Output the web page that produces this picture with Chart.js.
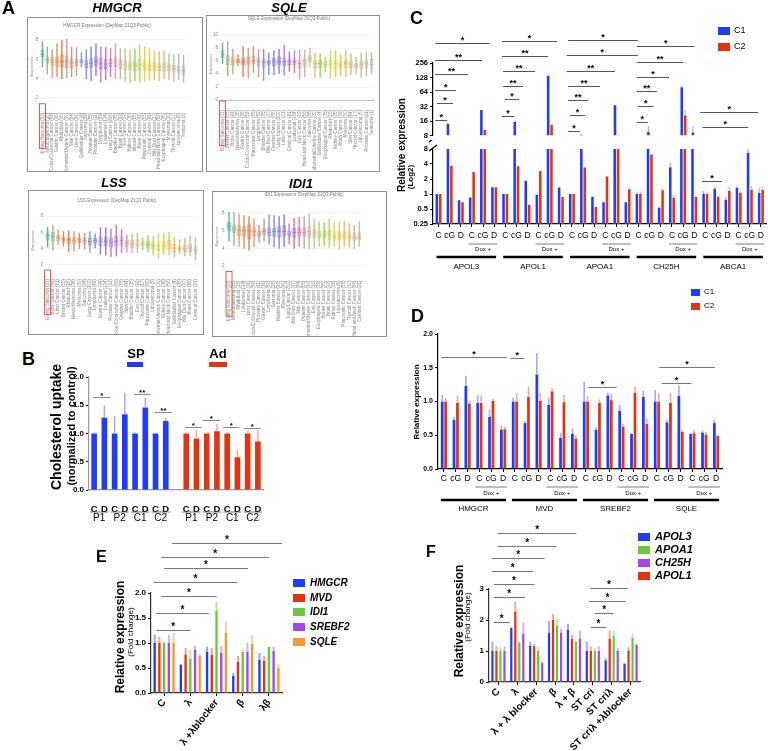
<!DOCTYPE html>
<html>
<head>
<meta charset="utf-8">
<script src="https://cdn.jsdelivr.net/npm/chart.js@4.4.1/dist/chart.umd.min.js"></script>
<style>
  body { margin: 0; width: 768px; height: 751px; position: relative; overflow: hidden; background: #fff;
         font-family: "Liberation Sans", Arial, sans-serif; color: #000; }
  canvas, .t, .frame, .sw { position: absolute; }
  .t { white-space: nowrap; line-height: 1; }
  .letter { font-weight: bold; font-size: 18px; }
  .gene { font-weight: bold; font-style: italic; font-size: 13px; transform: translateX(-50%); }
  .tiny { font-size: 9px; color: #777; transform: translate(-50%, -50%) scale(0.5); }
  .rot { font-weight: bold; transform: translate(-50%, -50%) rotate(-90deg); }
  .frame { border: 1px solid #8c8c8c; box-sizing: border-box; }
</style>
</head>
<body>
<script>
// ---------- Panel A (DepMap screenshots) ----------
const hmgcrLabels = ["Ewing Sarcoma (33)","Neuroblastoma (35)","Colon/Colorectal Cancer (59)","Gastric Cancer (36)","Rhabdoid (15)","Endometrial/Uterine Cancer (30)","Skin Cancer (84)","Liver Cancer (21)","Gallbladder Cancer (4)","Sarcoma (28)","Ovarian Cancer (55)","Prostate Cancer (11)","Lymphoma (82)","Leukemia (134)","Lung Cancer (200)","Bladder Cancer (35)","Brain Cancer (92)","Eye Cancer (10)","Kidney Cancer (35)","Breast Cancer (55)","Bone Cancer (41)","Pancreatic Cancer (55)","Cervical Cancer (21)","Bile Duct Cancer (37)","Head and Neck Cancer (56)","Esophageal Cancer (35)","Myeloma (30)","Thyroid Cancer (17)","Liposarcoma (5)","Teratoma (1)"];
const hmgcrMed = [6.5,6.0,5.8,5.7,5.8,5.8,5.6,5.7,5.8,5.5,5.6,5.8,5.6,5.5,5.6,5.7,5.5,5.4,5.4,5.4,5.5,5.4,5.3,5.3,5.2,5.2,5.2,5.0,4.9,4.8];
const hmgcrQ1  = [6.2,5.6,5.3,5.2,5.2,5.1,5.1,5.3,5.6,5.1,5.1,5.3,5.0,5.0,5.2,5.2,5.0,4.9,4.9,4.8,4.9,4.8,4.8,4.8,4.8,4.8,4.8,4.6,4.6,4.3];
const hmgcrQ3  = [7.0,6.3,6.2,6.3,6.5,6.4,6.0,6.0,6.0,5.9,6.1,6.3,6.1,6.0,6.0,6.3,6.0,5.9,5.8,5.9,6.0,5.9,5.8,5.7,5.6,5.7,5.6,5.4,5.3,5.3];
const hmgcrLo  = [5.2,4.5,4.1,4.2,4.0,4.1,4.2,4.3,5.2,4.0,3.8,4.3,3.6,3.9,4.2,4.0,4.0,3.8,3.6,3.8,3.6,3.7,3.8,3.9,3.8,4.0,3.9,3.7,3.9,3.6];
const hmgcrHi  = [7.8,7.3,7.0,7.6,8.0,8.1,7.3,7.2,6.7,7.0,7.3,7.6,7.3,7.2,7.1,7.6,7.1,7.1,7.0,7.1,7.5,7.3,7.1,6.9,6.8,6.9,6.6,6.5,6.6,6.4];

const sqleLabels = ["Ewing Sarcoma (33)","Breast Cancer (55)","Bone Cancer (41)","Neuroblastoma (35)","Gastric Cancer (36)","Colon/Colorectal Cancer (59)","Pancreatic Cancer (55)","Lymphoma (82)","Bladder Cancer (35)","Bile Duct Cancer (37)","Ovarian Cancer (55)","Lung Cancer (200)","Liver Cancer (21)","Cervical Cancer (21)","Leukemia (134)","Eye Cancer (10)","Head and Neck Cancer (56)","Sarcoma (28)","Endometrial/Uterine Cancer (30)","Gallbladder Cancer (4)","Esophageal Cancer (35)","Rhabdoid (15)","Kidney Cancer (35)","Brain Cancer (92)","Myeloma (30)","Skin Cancer (84)","Thyroid Cancer (17)","Liposarcoma (5)","Prostate Cancer (11)","Teratoma (1)"];
const sqleMed = [7.0,6.2,6.0,6.0,5.9,6.0,6.1,5.9,5.8,5.7,5.9,5.9,5.9,6.0,5.9,5.6,5.8,6.4,5.6,5.6,5.5,5.5,5.6,5.4,5.6,5.5,5.3,5.5,5.6,5.5];
const sqleQ1  = [6.5,5.4,5.4,5.7,5.3,5.3,5.5,5.2,5.0,5.3,5.2,5.3,5.2,5.4,5.3,4.8,5.0,5.9,4.9,4.9,5.1,4.8,4.9,4.9,4.9,4.9,4.9,4.8,4.9,4.8];
const sqleQ3  = [7.6,6.9,6.7,6.3,6.5,6.6,6.8,6.5,6.4,6.2,6.5,6.6,6.5,6.4,6.4,6.2,6.3,7.0,6.1,6.1,6.0,6.1,6.2,5.9,6.2,6.0,5.7,6.0,6.1,6.3];
const sqleLo  = [5.6,3.8,4.0,5.2,3.6,3.4,4.3,3.5,3.0,3.9,3.9,4.1,3.8,4.4,4.2,3.2,3.6,5.1,3.4,3.5,4.3,3.3,3.5,3.8,3.6,3.9,4.1,3.5,3.7,4.1];
const sqleHi  = [8.8,9.0,7.8,7.0,8.2,8.0,8.3,7.7,7.8,7.2,7.6,7.8,8.4,7.4,7.6,7.7,7.7,8.0,7.2,7.1,6.6,7.7,7.6,7.0,7.6,7.1,6.6,7.2,7.4,7.3];

const lssLabels = ["Ewing Sarcoma (33)","Bone Cancer (41)","Liver Cancer (21)","Breast Cancer (55)","Rhabdoid (15)","Neuroblastoma (35)","Myeloma (30)","Sarcoma (28)","Lung Cancer (200)","Lymphoma (82)","Gastric Cancer (36)","Leukemia (134)","Prostate Cancer (11)","Colon/Colorectal Cancer (59)","Ovarian Cancer (55)","Skin Cancer (84)","Bladder Cancer (35)","Eye Cancer (10)","Thyroid Cancer (17)","Pancreatic Cancer (55)","Liposarcoma (5)","Endometrial/Uterine Cancer (30)","Kidney Cancer (35)","Head and Neck Cancer (56)","Gallbladder Cancer (4)","Esophageal Cancer (35)","Bile Duct Cancer (37)","Brain Cancer (92)","Cervical Cancer (21)"];
const lssMed = [5.6,5.5,5.3,5.2,5.1,5.0,5.1,5.0,4.9,5.0,4.9,4.9,4.8,4.9,5.0,4.7,4.6,4.6,4.6,4.5,4.4,4.3,4.3,4.5,4.1,4.0,4.0,4.1,3.8];
const lssQ1  = [5.1,4.9,4.9,4.8,4.6,4.6,4.7,4.5,4.4,4.6,4.3,4.3,4.2,4.3,4.4,4.2,4.1,4.2,4.3,4.1,3.9,3.7,3.9,3.9,3.6,3.7,3.6,3.6,3.3];
const lssQ3  = [5.9,6.0,5.7,5.5,5.4,5.4,5.4,5.3,5.3,5.3,5.5,5.5,5.4,5.6,5.5,5.1,5.1,5.2,4.9,4.9,4.8,4.8,4.9,5.1,4.6,4.4,4.5,4.6,4.4];
const lssLo  = [4.2,3.8,4.5,4.3,3.6,3.7,4.0,3.9,3.5,4.1,3.3,3.2,3.0,3.1,3.5,3.6,3.5,3.5,3.8,3.6,3.2,2.8,3.3,3.2,2.9,3.4,3.1,3.1,2.6];
const lssHi  = [6.6,6.9,6.3,6.1,6.2,6.1,5.9,5.9,6.1,5.8,6.6,6.6,6.4,6.9,6.4,5.7,5.8,5.9,5.4,5.6,5.5,5.8,5.9,6.0,5.4,5.1,5.3,5.5,5.3];

const idi1Labels = ["Ewing Sarcoma (33)","Neuroblastoma (35)","Rhabdoid (15)","Leukemia (134)","Liver Cancer (21)","Colon/Colorectal Cancer (59)","Prostate Cancer (11)","Gastric Cancer (36)","Lymphoma (82)","Sarcoma (28)","Bladder Cancer (35)","Myeloma (30)","Lung Cancer (200)","Bile Duct Cancer (37)","Skin Cancer (84)","Ovarian Cancer (55)","Endometrial/Uterine Cancer (30)","Eye Cancer (10)","Esophageal Cancer (35)","Breast Cancer (55)","Brain Cancer (92)","Kidney Cancer (35)","Liposarcoma (5)","Pancreatic Cancer (55)","Thyroid Cancer (17)","Head and Neck Cancer (56)","Cervical Cancer (21)"];
const idi1Med = [6.5,6.2,6.0,6.0,6.0,5.9,5.6,5.9,5.8,5.9,5.9,5.9,5.6,5.8,5.8,5.8,5.9,5.7,5.5,5.5,5.6,5.3,5.4,5.4,5.3,5.2,5.2];
const idi1Q1  = [6.0,5.7,5.4,5.3,5.0,5.4,5.3,5.5,5.4,5.3,5.2,5.3,5.3,5.2,5.3,5.3,5.2,5.2,5.1,5.1,5.0,5.0,4.9,5.0,5.0,4.8,4.9];
const idi1Q3  = [7.0,6.6,6.6,6.5,6.7,6.4,6.0,6.3,6.4,6.3,6.5,6.6,6.0,6.3,6.4,6.4,6.5,6.2,6.0,6.0,6.1,5.8,5.9,6.0,5.8,5.7,5.8];
const idi1Lo  = [4.8,4.3,4.2,4.0,3.8,4.2,4.7,4.8,4.5,4.2,4.0,4.2,4.5,4.0,4.2,4.0,3.9,4.0,4.2,4.3,4.1,4.2,3.9,4.2,4.1,4.0,4.2];
const idi1Hi  = [8.1,8.1,7.9,7.7,7.6,7.3,6.6,7.3,7.8,7.7,7.6,7.8,6.8,7.4,7.5,7.6,7.9,7.3,7.0,6.9,7.3,6.9,7.0,7.1,6.8,6.6,7.0];
const aTicks = [2,4,6,8];
const aTicksSqle = [0,2,4,6,8,10];

// ---------- Panel B ----------
const bCats = ['C','D','C','D','C','D','C','D','','C','D','C','D','C','D','C','D'];
const bPairs = ['P1','P2','C1','C2'];
const spMean  = [1.0,1.28,1.0,1.34,1.0,1.46,1.0,1.22];
const spUpper = [1.02,1.50,1.31,1.72,1.02,1.63,1.02,1.28];
const adMean  = [1.0,0.91,1.0,1.04,1.0,0.58,1.0,0.86];
const adUpper = [1.02,1.06,1.03,1.17,1.03,0.70,1.04,1.06];
const bBrackets = [[-0.1,1.6,'*',1.65],[3.9,5.5,'**',1.70],[5.95,7.6,'**',1.38],[8.9,10.5,'*',1.12],[10.6,12.3,'*',1.24],[12.6,14.2,'*',1.11],[14.6,16.3,'*',1.10]];

// ---------- Panel C ----------
const cGenes = ['APOL3','APOL1','APOA1','CH25H','ABCA1'];
const cConds = ['C','cG','D','C','cG','D'];
const cTicksLow = [0.25,0.5,1,2,4,8];
const cTicksHigh = [8,16,32,64,128,256];
const c1Vals = [1.0,14,0.75,0.85,27,1.37, 1.0,15.5,1.85,0.97,139,1.35, 1.0,8.3,0.88,0.68,34,0.68, 1.0,9.5,0.53,3.45,80,9.2, 1.0,1.27,0.77,1.33,6.7,1.05];
const c1Up   = [null,null,null,null,null,null, null,null,null,null,null,null, null,null,null,null,null,null, 1.1,12.5,0.57,4.3,86,12.5, 1.15,1.42,0.88,1.45,10,1.35];
const c2Vals = [1.0,3.7,0.68,2.75,10.5,1.37, 1.0,3.6,0.6,2.9,13.4,0.87, 1.0,3.4,0.55,2.25,8.2,1.25, 1.0,6.2,1.19,0.84,20.7,0.87, 1.0,0.88,1.15,1.05,1.2,1.2];
const c2Up   = [null,null,null,null,null,null, null,null,null,null,null,null, null,null,null,null,null,null, 1.12,6.5,1.3,0.97,27,0.95, 1.1,0.93,1.42,1.12,1.45,1.42];
const cBracketsHigh = [
  [-0.3,0.76,'*',17],[-0.14,1.3,'*',37.5],[-0.3,1.57,'*',72],[-0.3,2.64,'**',153],[-0.3,3.9,'**',294],[-0.3,4.6,'*',652],
  [5.7,6.78,'*',20.4],[5.97,7.23,'*',45],[5.79,7.59,'**',87],[5.79,8.66,'**',176],[5.7,9.83,'**',355],[5.7,10.64,'*',750],
  [11.63,12.7,'*',10],[11.8,13.16,'*',21],[11.63,13.43,'**',43],[11.63,14.5,'**',87],[11.5,15.85,'**',176],[11.5,17.9,'*',372],[11.63,17.9,'*',787],
  [17.8,18.8,'*',15.4],[17.9,19.3,'*',32.7],[17.8,19.6,'**',66],[17.8,20.7,'*',132],[17.8,21.96,'**',269],[17.8,23.0,'*',568],
  [23.7,27.8,'*',12.2],[23.5,28.7,'*',24.6]
];
const cBracketsLow = [[23.7,25.5,'*',1.85]];

// ---------- Panel D ----------
const dGenes = ['HMGCR','MVD','SREBF2','SQLE'];
const d1Vals = [1.0,0.73,1.23,0.98,0.77,0.58, 1.0,0.68,1.40,0.95,0.46,0.52, 1.0,0.58,1.09,0.86,0.52,1.07, 1.0,0.69,1.08,0.52,0.54,0.68];
const d1Up   = [1.1,0.77,1.38,1.09,0.88,0.64, 1.06,0.71,1.72,1.06,0.54,0.6, 1.29,0.62,1.13,0.95,0.53,1.16, 1.17,0.73,1.23,0.53,0.57,0.73];
const d2Vals = [1.0,0.98,0.97,0.98,1.01,0.59, 1.0,1.07,1.01,1.15,0.99,0.45, 1.0,0.98,1.02,0.63,1.13,0.67, 1.0,0.98,0.55,0.53,0.51,0.49];
const d2Up   = [1.05,1.09,1.01,1.09,1.04,0.63, 1.12,1.22,1.13,1.2,1.1,0.5, 1.08,1.03,1.12,0.67,1.22,0.75, 1.12,1.13,0.58,0.58,0.55,0.51];
const dBrackets = [[-0.2,5.3,'*',1.66],[5.6,6.8,'*',1.64],[12.2,14.6,'*',1.21],[18.4,20.9,'*',1.27],[18.2,22.9,'*',1.51]];

// ---------- Panel E ----------
const eCats = ['C','λ','λ +λblocker','β','λβ'];
const eGenes = ['HMGCR','MVD','IDI1','SREBF2','SQLE'];
const eHMGCR  = [1.0,0.56,0.82,0.34,0.66], eHMGCRUp  = [1.17,0.58,0.93,0.40,0.80];
const eMVD    = [1.0,0.77,0.76,0.62,0.64], eMVDUp    = [1.12,0.90,0.90,0.74,0.74];
const eIDI1   = [1.0,0.68,1.64,0.82,0.92], eIDI1Up   = [1.02,0.86,1.82,0.87,0.93];
const eSREBF2 = [1.0,0.86,0.80,0.83,0.84], eSREBF2Up = [1.16,0.94,0.94,1.00,0.93];
const eSQLE   = [1.0,0.74,1.20,0.98,0.50], eSQLEUp   = [1.20,0.78,1.42,1.16,0.57];
const eBrackets = [[-0.3,1.0,'*',1.26],[-0.3,1.7,'*',1.6],[-0.1,2.0,'*',1.94],[-0.4,2.8,'*',2.22],[0,3.2,'*',2.5],[-0.1,4.0,'*',2.72],[0.3,4.5,'*',3.0]];

// ---------- Panel F ----------
const fCats = ['C','λ','λ + λ blocker','β','λ + β','ST cri','ST criλ','ST criλ +λblocker'];
const fAPOL3 = [1.0,1.74,1.18,1.58,1.69,1.0,0.70,0.59], fAPOL3Up = [1.3,1.77,1.3,1.97,1.88,1.3,0.77,0.62];
const fAPOL1 = [1.0,2.26,1.16,2.01,1.39,1.0,1.40,1.02], fAPOL1Up = [1.15,2.6,1.24,2.2,1.52,1.14,1.66,1.12];
const fAPOA1 = [1.0,1.26,1.0,1.83,1.31,1.0,1.48,1.42],  fAPOA1Up = [1.13,1.33,1.13,2.05,1.33,1.09,1.67,1.55];
const fCH25H = [1.0,1.56,0.62,1.6,1.41,1.0,1.01,1.2],   fCH25HUp = [1.15,1.92,0.67,1.72,1.66,1.15,1.1,1.25];
const fBrackets = [[-0.25,0.6,'*',1.94],[-0.25,1.4,'*',2.74],[-0.25,1.9,'*',3.16],[-0.35,1.85,'*',3.58],[-0.35,2.45,'*',4.0],[-0.03,3.08,'*',4.39],[-0.03,4.13,'*',4.81],
                   [4.9,5.7,'*',1.77],[5.1,6.1,'*',2.23],[4.8,6.75,'*',2.61],[4.85,6.85,'*',3.03]];

// ---------- styles ----------
const BLUE = '#1f3bff', LBLUE = '#9aa5ff', RED = '#e5330f', LRED = '#f5a392';
const GREEN = '#6cc73c', LGREEN = '#bce6a4', PURPLE = '#a446e8', LPURPLE = '#d8acf5', ORANGE = '#f19a2e', LORANGE = '#f8d09c';
const boxPalette = ['#4cb88a','#9fae8a','#d7a06a','#e38b4e','#dd7a45','#e59370','#d7907a','#c79a92','#8f8fd6','#7b8ee0',
  '#8c7fd9','#9a6ed8','#b27ad8','#c46ccc','#d47ab8','#d69aa8','#cdb39a','#c9c08a','#b9cf6e','#a3cc5a',
  '#bcd654','#d9d44a','#e8cd3e','#eac455','#e2bc6e','#d9b684','#d3b48f','#ccb69c','#c4b9a8','#bdb6ae'];
const FONT = '"Liberation Sans", Arial, sans-serif';

Chart.defaults.font.family = FONT;
Chart.defaults.color = '#000';
Chart.defaults.animation = false;
Chart.defaults.plugins.legend.display = false;
Chart.defaults.plugins.tooltip.enabled = false;

// error bars, significance lines, group rows, axis break
const extras = {
  id: 'extras',
  afterDatasetsDraw(chart, args, o) {
    o = o || {};
    const ctx = chart.ctx, a = chart.chartArea, xs = chart.scales.x, ys = chart.scales.y;
    ctx.save();
    ctx.beginPath();
    ctx.rect(a.left, a.top, a.right - a.left, a.bottom - a.top);
    ctx.clip();
    chart.data.datasets.forEach((ds, di) => {
      if (!ds.upper) return;
      chart.getDatasetMeta(di).data.forEach((bar, i) => {
        const v = ds.data[i], u = ds.upper[i];
        if (v == null || u == null) return;
        ctx.strokeStyle = ds.errColor;
        ctx.lineWidth = ds.errFrac ? bar.width * ds.errFrac : ds.errWidth;
        ctx.beginPath();
        ctx.moveTo(bar.x, ys.getPixelForValue(v));
        ctx.lineTo(bar.x, ys.getPixelForValue(u));
        ctx.stroke();
      });
    });
    ctx.restore();

    ctx.save();
    ctx.textAlign = 'center';
    (o.brackets || []).forEach(([f, t, s, v]) => {
      const y = Math.round(ys.getPixelForValue(v)) + 0.5;
      const x1 = xs.getPixelForValue(f), x2 = xs.getPixelForValue(t);
      ctx.strokeStyle = o.lineColor || '#777';
      ctx.lineWidth = o.lineWidth || 1;
      ctx.beginPath(); ctx.moveTo(x1, y); ctx.lineTo(x2, y); ctx.stroke();
      ctx.fillStyle = '#000';
      ctx.font = o.starFont || ('bold 9px ' + FONT);
      ctx.textBaseline = 'bottom';
      ctx.fillText(s, (x1 + x2) / 2, y + (o.starDy || 2));
    });
    (o.rows || []).forEach(r => {
      r.spans.forEach(([f, t, s]) => {
        const x1 = xs.getPixelForValue(f) - r.ext, x2 = xs.getPixelForValue(t) + r.ext;
        const y = a.bottom + r.lineOff;
        ctx.strokeStyle = r.color || '#000';
        ctx.lineWidth = r.lw;
        ctx.beginPath(); ctx.moveTo(x1, y); ctx.lineTo(x2, y); ctx.stroke();
        ctx.font = r.font; ctx.textBaseline = 'middle'; ctx.fillStyle = '#000';
        ctx.fillText(s, (x1 + x2) / 2, a.bottom + r.textOff);
      });
    });
    if (o.brk) {
      const x = a.left, y = a.top;
      ctx.strokeStyle = '#000'; ctx.lineWidth = 1.3;
      ctx.beginPath();
      ctx.moveTo(x - 4, y + 2); ctx.lineTo(x + 4, y - 4);
      ctx.moveTo(x - 4, y - 7); ctx.lineTo(x + 4, y - 13);
      ctx.stroke();
    }
    if (o.redBox) {
      const px = xs.getPixelForTick(0);
      ctx.font = '4.5px ' + FONT;
      const w = ctx.measureText(chart.data.labels[0]).width;
      ctx.strokeStyle = '#e52b2b'; ctx.lineWidth = 0.8;
      ctx.strokeRect(px - 3, xs.top + 1, 6, w + 4);
    }
    ctx.restore();
  }
};

function place(L, T, W, H) {
  const c = document.createElement('canvas');
  c.width = W; c.height = H;
  c.style.left = L + 'px'; c.style.top = T + 'px';
  document.body.appendChild(c);
  return c;
}
function text(str, cls, x, y, css) {
  const d = document.createElement('div');
  d.className = 't ' + cls;
  d.textContent = str;
  d.style.left = x + 'px'; d.style.top = y + 'px';
  if (css) Object.assign(d.style, css);
  document.body.appendChild(d);
  return d;
}
function swatch(x, y, w, h, color) {
  const d = document.createElement('div');
  d.className = 'sw';
  Object.assign(d.style, { left: x + 'px', top: y + 'px', width: w + 'px', height: h + 'px', background: color });
  document.body.appendChild(d);
}
function frame(x, y, w, h) {
  const d = document.createElement('div');
  d.className = 'frame';
  Object.assign(d.style, { left: x + 'px', top: y + 'px', width: w + 'px', height: h + 'px' });
  document.body.appendChild(d);
}
const blackAxis = (tickFont, extra) => Object.assign({
  grid: { display: true, drawOnChartArea: false, drawTicks: true, tickLength: 3, color: '#000', offset: false },
  border: { color: '#000', width: 1.2 },
  ticks: { font: tickFont, color: '#000', padding: 2, autoSkip: false }
}, extra);

// ---------- Panel A charts ----------
function boxChart(g, labels, lo, q1, med, q3, hi, yMin, yMax, yTicks, axisLine) {
  const cols = labels.map((_, i) => boxPalette[i]);
  new Chart(place(g.L, g.T, g.W, g.H), {
    type: 'bar',
    data: {
      labels,
      datasets: [
        { type: 'line', data: med, showLine: false, pointStyle: 'line', pointRadius: 1.9,
          pointBorderColor: cols, pointBorderWidth: 0.9, borderColor: cols[0] },
        { data: q1.map((v, i) => [v, q3[i]]), backgroundColor: cols.map(c => c + '55'), borderColor: cols,
          borderWidth: 0.6, borderSkipped: false, barPercentage: 0.72, categoryPercentage: 1, grouped: false },
        { data: lo.map((v, i) => [v, hi[i]]), backgroundColor: cols, barThickness: 0.7, grouped: false }
      ]
    },
    plugins: [extras],
    options: {
      responsive: false,
      layout: { padding: { left: 0, right: g.pr, top: g.pt, bottom: 0 } },
      plugins: { extras: { redBox: true } },
      scales: {
        x: { grid: { display: false }, border: { display: axisLine, color: '#999', width: 0.6 },
             ticks: { autoSkip: false, minRotation: 90, maxRotation: 90, padding: 2, color: '#888', font: { size: 4.5 } },
             afterFit: s => { s.height = g.xh; } },
        y: { min: yMin, max: yMax,
             afterBuildTicks: s => { s.ticks = yTicks.map(v => ({ value: v })); },
             ticks: { color: '#888', font: { size: 4.5 }, padding: 2 },
             grid: { color: '#ececec', drawTicks: false, lineWidth: 0.5 }, border: { display: false },
             title: { display: true, text: 'Expression', color: '#888', font: { size: 4 }, padding: 1 },
             afterFit: s => { s.width = g.yw; } }
      }
    }
  });
}

frame(27, 17, 176, 155);
frame(206, 15, 174, 157);
frame(28, 190, 176, 145);
frame(212, 191, 175, 146);
boxChart({ L: 28, T: 18, W: 174, H: 153, yw: 12, pr: 16, pt: 12.3, xh: 68.2 },
  hmgcrLabels, hmgcrLo, hmgcrQ1, hmgcrMed, hmgcrQ3, hmgcrHi, 1.5, 9, aTicks, false);
boxChart({ L: 207, T: 16, W: 172, H: 155, yw: 13, pr: 2.4, pt: 12.5, xh: 71 },
  sqleLabels, sqleLo, sqleQ1, sqleMed, sqleQ3, sqleHi, 0, 11, aTicksSqle, true);
boxChart({ L: 29, T: 191, W: 174, H: 143, yw: 16, pr: 0.5, pt: 21, xh: 65 },
  lssLabels, lssLo, lssQ1, lssMed, lssQ3, lssHi, 1.5, 8.5, aTicks, false);
boxChart({ L: 213, T: 192, W: 174, H: 144, yw: 13.5, pr: 25.2, pt: 10.4, xh: 65.6 },
  idi1Labels, idi1Lo, idi1Q1, idi1Med, idi1Q3, idi1Hi, 1.5, 9.2, aTicks, false);

text('HMGCR Expression (DepMap 21Q3 Public)', 'tiny', 107, 26);
text('SQLE Expression (DepMap 21Q3 Public)', 'tiny', 289, 19);
text('LSS Expression (DepMap 21Q3 Public)', 'tiny', 117, 201);
text('IDI1 Expression (DepMap 21Q3 Public)', 'tiny', 304, 195);
text('HMGCR', 'gene', 117, 1);
text('SQLE', 'gene', 289, 0.5);
text('LSS', 'gene', 114, 175.5);
text('IDI1', 'gene', 301, 177);

// ---------- Panel B chart ----------
const nulls = n => Array(n).fill(null);
new Chart(place(40, 340, 230, 190), {
  type: 'bar',
  data: {
    labels: bCats,
    datasets: [
      { data: spMean.concat(nulls(9)), upper: spUpper.concat(nulls(9)), backgroundColor: BLUE, errColor: LBLUE, errWidth: 1.4,
        barPercentage: 0.55, categoryPercentage: 1, grouped: false },
      { data: nulls(9).concat(adMean), upper: nulls(9).concat(adUpper), backgroundColor: RED, errColor: LRED, errWidth: 1.4,
        barPercentage: 0.55, categoryPercentage: 1, grouped: false }
    ]
  },
  plugins: [extras],
  options: {
    responsive: false,
    layout: { padding: { left: 0, right: 7, top: 37, bottom: 0 } },
    plugins: { extras: {
      brackets: bBrackets, lineColor: '#8a8a8a', starFont: 'bold 8px ' + FONT,
      rows: [{ spans: bPairs.map((p, i) => [2 * i, 2 * i + 1, p]).concat(bPairs.map((p, i) => [9 + 2 * i, 10 + 2 * i, p])),
               lineOff: 22, textOff: 28, lw: 0.8, ext: 4, color: '#555', font: '10px ' + FONT }]
    } },
    scales: {
      x: { grid: { display: false }, border: { color: '#999', width: 1.2 },
           ticks: { font: { size: 9.5, weight: 'bold' }, color: '#000', padding: 6, autoSkip: false, maxRotation: 0 },
           afterFit: s => { s.height = 40; } },
      y: blackAxis({ size: 8, weight: 'bold' }, {
           min: 0, max: 2,
           border: { color: '#999', width: 1.2 },
           ticks: { stepSize: 0.5, callback: v => v.toFixed(1), font: { size: 8, weight: 'bold' }, color: '#000', padding: 2 },
           afterFit: s => { s.width = 49; } })
    }
  }
});

// ---------- Panel C charts (broken log2 axis) ----------
const cLabels = cGenes.flatMap(() => cConds);
const cSets = above => [
  { data: above ? c1Vals.map(v => v > 8 ? v : null) : c1Vals, upper: c1Up, backgroundColor: BLUE, errColor: LBLUE, errWidth: 1.1,
    clip: 0, barPercentage: 0.74, categoryPercentage: 0.62 },
  { data: above ? c2Vals.map(v => v > 8 ? v : null) : c2Vals, upper: c2Up, backgroundColor: RED, errColor: LRED, errWidth: 1.1,
    clip: 0, barPercentage: 0.74, categoryPercentage: 0.62 }
];
const logAxis = (lo, hi, ticks) => blackAxis({ size: 7.5, weight: 'bold' }, {
  type: 'logarithmic', min: lo, max: hi,
  afterBuildTicks: s => { s.ticks = ticks.map(v => ({ value: v })); },
  ticks: { callback: v => String(v), font: { size: 7.5, weight: 'bold' }, color: '#000', padding: 2, autoSkip: false },
  afterFit: s => { s.width = 38; }
});
new Chart(place(395, 20, 373, 122), {
  type: 'bar',
  data: { labels: cLabels, datasets: cSets(true) },
  plugins: [extras],
  options: {
    responsive: false,
    layout: { padding: { left: 0, right: 1, top: 43, bottom: 5 } },
    plugins: { extras: { brackets: cBracketsHigh, lineColor: '#555', starFont: 'bold 9px ' + FONT } },
    scales: { x: { display: false }, y: logAxis(8, 256, cTicksHigh) }
  }
});
new Chart(place(395, 140, 373, 139), {
  type: 'bar',
  data: { labels: cLabels, datasets: cSets(false) },
  plugins: [extras],
  options: {
    responsive: false,
    layout: { padding: { left: 0, right: 1, top: 9, bottom: 0 } },
    plugins: { extras: {
      brackets: cBracketsLow, lineColor: '#555', starFont: 'bold 9px ' + FONT, brk: true,
      rows: [
        { spans: cGenes.map((g, i) => [i * 6 + 3, i * 6 + 5, 'Dox +']), lineOff: 20, textOff: 25.5, lw: 0.7, ext: 3, color: '#444', font: '6px ' + FONT },
        { spans: cGenes.map((g, i) => [i * 6, i * 6 + 5, g]), lineOff: 33, textOff: 43, lw: 2.4, ext: 2, font: '8px ' + FONT }
      ]
    } },
    scales: {
      x: blackAxis({ size: 8.5 }, { ticks: { font: { size: 8.5 }, color: '#000', padding: 4, autoSkip: false, maxRotation: 0 },
                                   afterFit: s => { s.height = 55; } }),
      y: logAxis(0.25, 8, cTicksLow)
    }
  }
});

// ---------- Panel D chart ----------
new Chart(place(395, 320, 330, 194), {
  type: 'bar',
  data: {
    labels: dGenes.flatMap(() => cConds),
    datasets: [
      { data: d1Vals, upper: d1Up, backgroundColor: BLUE, errColor: LBLUE, errFrac: 0.55, barPercentage: 0.8, categoryPercentage: 0.58 },
      { data: d2Vals, upper: d2Up, backgroundColor: RED, errColor: LRED, errFrac: 0.55, barPercentage: 0.8, categoryPercentage: 0.58 }
    ]
  },
  plugins: [extras],
  options: {
    responsive: false,
    layout: { padding: { left: 0, right: 3, top: 14, bottom: 0 } },
    plugins: { extras: {
      brackets: dBrackets, lineColor: '#777', starFont: 'bold 9px ' + FONT,
      rows: [
        { spans: dGenes.map((g, i) => [i * 6 + 3, i * 6 + 5, 'Dox +']), lineOff: 18, textOff: 24, lw: 0.7, ext: 4, color: '#444', font: '6px ' + FONT },
        { spans: dGenes.map((g, i) => [i * 6, i * 6 + 5, g]), lineOff: 31, textOff: 40, lw: 2.4, ext: 3, font: '8px ' + FONT }
      ]
    } },
    scales: {
      x: blackAxis({ size: 8.5 }, { ticks: { font: { size: 8.5 }, color: '#000', padding: 2, autoSkip: false, maxRotation: 0 },
                                   afterFit: s => { s.height = 45; } }),
      y: blackAxis({ size: 7, weight: 'bold' }, { min: 0, max: 2,
           ticks: { stepSize: 0.5, callback: v => v.toFixed(1), font: { size: 7, weight: 'bold' }, color: '#000', padding: 2 },
           afterFit: s => { s.width = 43; } })
    }
  }
});

// ---------- Panel E chart ----------
const eSeries = [eHMGCR, eMVD, eIDI1, eSREBF2, eSQLE];
const eSeriesUp = [eHMGCRUp, eMVDUp, eIDI1Up, eSREBF2Up, eSQLEUp];
const eColors = [BLUE, RED, GREEN, PURPLE, ORANGE];
const eLight = [LBLUE, LRED, LGREEN, LPURPLE, LORANGE];
new Chart(place(100, 530, 190, 221), {
  type: 'bar',
  data: {
    labels: eCats,
    datasets: eGenes.map((g, k) => ({ label: g, data: eSeries[k], upper: eSeriesUp[k], backgroundColor: eColors[k],
      errColor: eLight[k], errFrac: 0.85, barPercentage: 0.5, categoryPercentage: 0.9 }))
  },
  plugins: [extras],
  options: {
    responsive: false,
    layout: { padding: { left: 0, right: 8, top: 63, bottom: 0 } },
    plugins: { extras: { brackets: eBrackets, lineColor: '#777', lineWidth: 1.2, starFont: 'bold 10px ' + FONT } },
    scales: {
      x: blackAxis({ size: 10, weight: 'bold' }, {
           border: { color: '#333', width: 1.2 },
           ticks: { font: { size: 10, weight: 'bold' }, color: '#000', padding: 1, autoSkip: false, minRotation: 52, maxRotation: 52 },
           afterFit: s => { s.height = 58; } }),
      y: blackAxis({ size: 8, weight: 'bold' }, { min: 0, max: 2,
           border: { color: '#333', width: 1.2 },
           ticks: { stepSize: 0.5, callback: v => v.toFixed(1), font: { size: 8, weight: 'bold' }, color: '#000', padding: 2 },
           afterFit: s => { s.width = 51; } })
    }
  }
});

// ---------- Panel F chart ----------
const fOrder = ['APOL3','APOL1','APOA1','CH25H'];
const fSeries = [fAPOL3, fAPOL1, fAPOA1, fCH25H];
const fSeriesUp = [fAPOL3Up, fAPOL1Up, fAPOA1Up, fCH25HUp];
const fColors = [BLUE, RED, GREEN, PURPLE];
const fLight = [LBLUE, LRED, LGREEN, LPURPLE];
new Chart(place(440, 515, 205, 236), {
  type: 'bar',
  data: {
    labels: fCats,
    datasets: fOrder.map((g, k) => ({ label: g, data: fSeries[k], upper: fSeriesUp[k], backgroundColor: fColors[k],
      errColor: fLight[k], errFrac: 0.85, barPercentage: 0.55, categoryPercentage: 0.85 }))
  },
  plugins: [extras],
  options: {
    responsive: false,
    layout: { padding: { left: 0, right: 5, top: 74, bottom: 0 } },
    plugins: { extras: { brackets: fBrackets, lineColor: '#777', lineWidth: 1.2, starFont: 'bold 10px ' + FONT } },
    scales: {
      x: blackAxis({ size: 10, weight: 'bold' }, {
           border: { color: '#333', width: 1.2 },
           ticks: { font: { size: 10, weight: 'bold' }, color: '#000', padding: 1, autoSkip: false, minRotation: 45, maxRotation: 45 },
           afterFit: s => { s.height = 69; } }),
      y: blackAxis({ size: 8, weight: 'bold' }, { min: 0, max: 3,
           border: { color: '#333', width: 1.2 },
           ticks: { stepSize: 1, font: { size: 8, weight: 'bold' }, color: '#000', padding: 2 },
           afterFit: s => { s.width = 49; } })
    }
  }
});

// ---------- letters, titles, legends ----------
text('A', 'letter', 2, -1);
text('B', 'letter', 22, 350);
text('C', 'letter', 410, 9);
text('D', 'letter', 411, 307);
text('E', 'letter', 96, 549, { fontSize: '16px' });
text('F', 'letter', 426, 544, { fontSize: '16px' });

text('Cholesterol uptake', 'rot', 56, 427, { fontSize: '14px' });
text('(normalized to control)', 'rot', 71, 426, { fontSize: '11px' });
text('Relative expression', 'rot', 402, 145, { fontSize: '10px' });
text('(Log2)', 'rot', 411, 177, { fontSize: '8px' });
text('Relative expression', 'rot', 417, 402, { fontSize: '8px' });
text('Relative expression', 'rot', 120, 637, { fontSize: '12px' });
text('(Fold change)', 'rot', 131, 632, { fontSize: '8px', fontWeight: 'normal' });
text('Relative expression', 'rot', 459, 621, { fontSize: '12px' });
text('(Fold change)', 'rot', 468, 617, { fontSize: '8px', fontWeight: 'normal' });

text('SP', 't', 136, 347, { fontSize: '13px', fontWeight: 'bold', transform: 'translateX(-50%)' });
swatch(127, 362, 16, 5, BLUE);
text('Ad', 't', 218, 347, { fontSize: '13px', fontWeight: 'bold', transform: 'translateX(-50%)' });
swatch(209, 362, 18, 5, RED);

['C1', 'C2'].forEach((s, i) => {
  swatch(718, 27 + 16 * i, 12, 8, i ? RED : BLUE);
  text(s, 't', 734, 26 + 16 * i, { fontSize: '9px' });
  swatch(691, 289 + 14 * i, 9, 7, i ? RED : BLUE);
  text(s, 't', 704, 288 + 14 * i, { fontSize: '8px' });
});
eGenes.forEach((g, k) => {
  swatch(293, 579 + 14.7 * k, 12, 8, eColors[k]);
  text(g, 't', 310, 578 + 14.7 * k, { fontSize: '10px', fontWeight: 'bold', fontStyle: 'italic' });
});
const fLegend = ['APOL3', 'APOA1', 'CH25H', 'APOL1'];
fLegend.forEach((g, k) => {
  swatch(638, 533 + 13 * k, 12, 8, fColors[fOrder.indexOf(g)]);
  text(g, 't', 655, 531 + 13 * k, { fontSize: '11px', fontWeight: 'bold', fontStyle: 'italic' });
});
</script>
</body>
</html>
